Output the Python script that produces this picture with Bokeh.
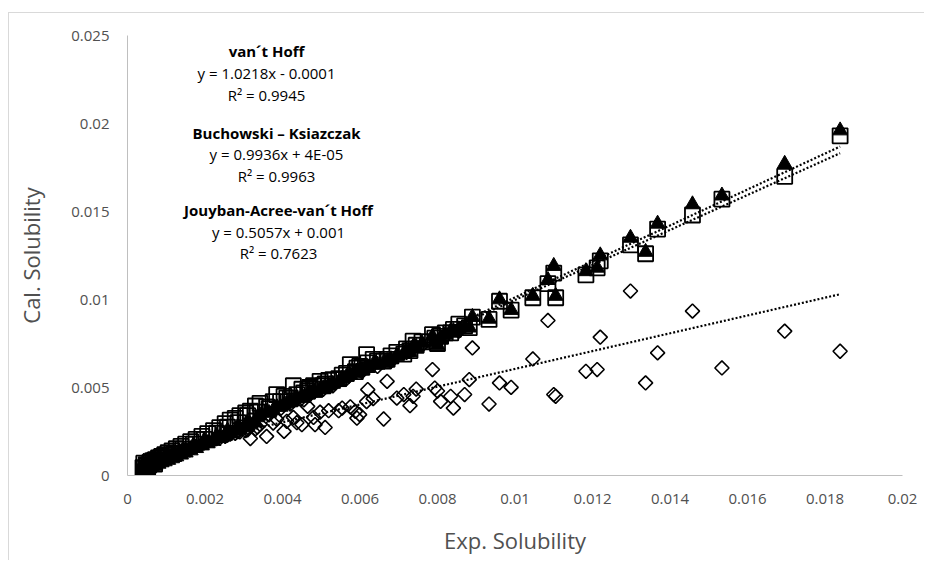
from bokeh.plotting import figure
from bokeh.models import Label, FixedTicker
from bokeh.embed import file_html
from bokeh.resources import INLINE
import math

# ---------------- data ----------------
exp_sol = [0.00040, 0.00043, 0.00047, 0.00050, 0.00055, 0.00060, 0.00066, 0.00072, 0.00080, 0.00088,
           0.00096, 0.00105, 0.00115, 0.00126, 0.00138, 0.00150, 0.00163, 0.00177, 0.00192, 0.00207,
           0.00222, 0.00238, 0.00252, 0.00265, 0.00278, 0.00290, 0.00305, 0.00317, 0.00330,
           0.00342, 0.00359, 0.00376, 0.00385, 0.00404, 0.00411, 0.00428, 0.00437, 0.00450, 0.00465,
           0.00480, 0.00484, 0.00497, 0.00510, 0.00519, 0.00545, 0.00554, 0.00575, 0.00588, 0.00592,
           0.00599, 0.00617, 0.00620, 0.00634, 0.00661, 0.00670, 0.00695, 0.00713, 0.00729, 0.00737,
           0.00745, 0.00787, 0.00793, 0.00800, 0.00808, 0.00834, 0.00841, 0.00870, 0.00882, 0.00890,
           0.00933, 0.00960, 0.00990, 0.01046, 0.01085, 0.01100, 0.01105, 0.01183, 0.01212, 0.01220,
           0.01298, 0.01337, 0.01368, 0.01458, 0.01534, 0.01696, 0.01839,
           0.00042, 0.00048, 0.00052, 0.00058, 0.00070, 0.00085, 0.00100, 0.00120, 0.00143, 0.00170,
           0.00198, 0.00230, 0.00258, 0.00285, 0.00310, 0.00335, 0.00365, 0.00395, 0.00420, 0.00455,
           0.00470, 0.00505, 0.00530, 0.00565, 0.00605, 0.00645, 0.00680, 0.00720, 0.00760, 0.00820,
           0.00855]

vant_hoff = [0.00030, 0.00035, 0.00020, 0.00045, 0.00040, 0.00050, 0.00055, 0.00060, 0.00066, 0.00074,
             0.00080, 0.00088, 0.00097, 0.00108, 0.00118, 0.00130, 0.00142, 0.00155, 0.00170, 0.00182,
             0.00196, 0.00212, 0.00225, 0.00238, 0.00250, 0.00262, 0.00275, 0.00290, 0.00300,
             0.00340, 0.00360, 0.00370, 0.00390, 0.00400, 0.00410, 0.00420, 0.00440, 0.00450, 0.00460,
             0.00480, 0.00470, 0.00490, 0.00500, 0.00510, 0.00530, 0.00550, 0.00570, 0.00580, 0.00590,
             0.00600, 0.00620, 0.00610, 0.00630, 0.00640, 0.00650, 0.00680, 0.00690, 0.00700, 0.00730,
             0.00730, 0.00790, 0.00760, 0.00740, 0.00780, 0.00820, 0.00820, 0.00840, 0.00840, 0.00900,
             0.00890, 0.01000, 0.00940, 0.01020, 0.01110, 0.01190, 0.01020, 0.01160, 0.01180, 0.01250,
             0.01350, 0.01270, 0.01430, 0.01540, 0.01590, 0.01770, 0.01960,
             0.00060, 0.00050, 0.00030, 0.00065, 0.00055, 0.00090, 0.00105, 0.00118, 0.00145, 0.00170,
             0.00198, 0.00225, 0.00255, 0.00280, 0.00305, 0.00330, 0.00355, 0.00390, 0.00415, 0.00440,
             0.00470, 0.00495, 0.00520, 0.00560, 0.00600, 0.00630, 0.00660, 0.00710, 0.00750, 0.00800,
             0.00830]

buchowski = [0.00045, 0.00040, 0.00030, 0.00055, 0.00060, 0.00075, 0.00085, 0.00090, 0.00100, 0.00108,
             0.00118, 0.00130, 0.00140, 0.00152, 0.00165, 0.00178, 0.00192, 0.00205, 0.00222, 0.00238,
             0.00255, 0.00272, 0.00295, 0.00315, 0.00325, 0.00340, 0.00355, 0.00365, 0.00395,
             0.00410, 0.00390, 0.00420, 0.00460, 0.00450, 0.00440, 0.00510, 0.00460, 0.00490, 0.00480,
             0.00510, 0.00490, 0.00535, 0.00520, 0.00540, 0.00550, 0.00570, 0.00630, 0.00590, 0.00610,
             0.00620, 0.00687, 0.00640, 0.00660, 0.00650, 0.00660, 0.00700, 0.00690, 0.00710, 0.00763,
             0.00740, 0.00800, 0.00780, 0.00750, 0.00790, 0.00810, 0.00830, 0.00850, 0.00840, 0.00900,
             0.00887, 0.00990, 0.00940, 0.01010, 0.01090, 0.01150, 0.01010, 0.01140, 0.01180, 0.01220,
             0.01310, 0.01260, 0.01400, 0.01480, 0.01570, 0.01700, 0.01930,
             0.00070, 0.00062, 0.00040, 0.00075, 0.00065, 0.00100, 0.00115, 0.00125, 0.00150, 0.00178,
             0.00205, 0.00240, 0.00275, 0.00300, 0.00340, 0.00360, 0.00380, 0.00420, 0.00440, 0.00470,
             0.00500, 0.00510, 0.00545, 0.00580, 0.00615, 0.00650, 0.00680, 0.00720, 0.00760, 0.00810,
             0.00860]

jouyban = [0.00050, 0.00045, 0.00040, 0.00060, 0.00065, 0.00070, 0.00072, 0.00080, 0.00088, 0.00095,
           0.00102, 0.00108, 0.00115, 0.00125, 0.00135, 0.00145, 0.00155, 0.00165, 0.00178, 0.00190,
           0.00200, 0.00212, 0.00222, 0.00235, 0.00240, 0.00248, 0.00255, 0.00210, 0.00265,
           0.00290, 0.00222, 0.00298, 0.00320, 0.00251, 0.00308, 0.00330, 0.00300, 0.00289, 0.00393,
           0.00330, 0.00289, 0.00360, 0.00273, 0.00368, 0.00368, 0.00383, 0.00390, 0.00364, 0.00326,
           0.00346, 0.00420, 0.00488, 0.00437, 0.00321, 0.00535, 0.00440, 0.00460, 0.00397, 0.00450,
           0.00491, 0.00602, 0.00497, 0.00480, 0.00421, 0.00450, 0.00383, 0.00460, 0.00545, 0.00725,
           0.00406, 0.00526, 0.00501, 0.00662, 0.00881, 0.00460, 0.00450, 0.00592, 0.00602, 0.00786,
           0.01048, 0.00526, 0.00697, 0.00934, 0.00611, 0.00820, 0.00706,
           0.00055, 0.00035, 0.00048, 0.00058, 0.00075, 0.00082, 0.00098, 0.00120, 0.00140, 0.00160,
           0.00185, 0.00210, 0.00230, 0.00250, 0.00260, 0.00275, 0.00345, 0.00380, 0.00405, 0.00430,
           0.00460, 0.00490, 0.00510, 0.00550, 0.00590, 0.00620, 0.00650, 0.00700, 0.00740, 0.00790,
           0.00820]

fit_names = ["van\u00b4t Hoff", "Buchowski \u2013 Ksiazczak", "Jouyban-Acree-van\u00b4t Hoff"]
fit_slope = [1.0218, 0.9936, 0.5057]
fit_intercept = [-0.0001, 0.00004, 0.001]
fit_eq = ["y = 1.0218x - 0.0001", "y = 0.9936x + 4E-05", "y = 0.5057x + 0.001"]
fit_r2 = ["R\u00b2 = 0.9945", "R\u00b2 = 0.9963", "R\u00b2 = 0.7623"]

x_ticks = [0, 0.002, 0.004, 0.006, 0.008, 0.01, 0.012, 0.014, 0.016, 0.018, 0.02]
x_tick_labels = ["0", "0.002", "0.004", "0.006", "0.008", "0.01", "0.012", "0.014", "0.016", "0.018", "0.02"]
y_ticks = [0, 0.005, 0.01, 0.015, 0.02, 0.025]
y_tick_labels = ["0", "0.005", "0.01", "0.015", "0.02", "0.025"]

# ---------------- figure ----------------
FONT = "Open Sans"
GRAY = "#505050"
OX, OY = 9, 13                     # outer chart-area border offset
W, H = 925 - OX, 561 - OY
L, R, T, B = 127 - OX, 23, 35 - OY, 86

p = figure(width=W, height=H, output_backend="svg", toolbar_location=None,
           x_range=(0, 0.02), y_range=(0, 0.025),
           min_border_left=L, min_border_right=R, min_border_top=T, min_border_bottom=B)
p.margin = (OY - 1, 0, 0, OX - 1)
p.styles = {"border-left": "1px solid #d9d9d9", "border-top": "1px solid #d9d9d9"}
p.outline_line_color = None
p.background_fill_color = "white"
p.border_fill_color = "white"
p.xgrid.grid_line_color = None
p.ygrid.grid_line_color = None

for ax, ticks, labels in ((p.xaxis[0], x_ticks, x_tick_labels), (p.yaxis[0], y_ticks, y_tick_labels)):
    ax.ticker = FixedTicker(ticks=ticks)
    ax.major_label_overrides = {t: l for t, l in zip(ticks, labels)}
    ax.major_tick_line_color = None
    ax.minor_tick_line_color = None
    ax.axis_line_color = "#bfbfbf"
    ax.axis_line_width = 1
    ax.major_label_text_font = FONT
    ax.major_label_text_font_size = "15px"
    ax.major_label_text_color = GRAY
    ax.axis_label_text_font = FONT
    ax.axis_label_text_font_size = "22px"
    ax.axis_label_text_font_style = "normal"
    ax.axis_label_text_color = GRAY

p.xaxis.axis_label = "Exp. Solubility"
p.yaxis.axis_label = "Cal. Solubility"
p.xaxis.major_label_standoff = 12
p.yaxis.major_label_standoff = 12
p.xaxis.axis_label_standoff = 18
p.yaxis.axis_label_standoff = 22

# points
p.scatter(exp_sol, jouyban, marker="square", size=10, angle=math.pi / 4,
          fill_color=None, line_color="black", line_width=1.6)
p.scatter(exp_sol, vant_hoff, marker="triangle", size=15,
          fill_color="black", line_color="black", line_width=1)
p.scatter(exp_sol, buchowski, marker="square", size=15,
          fill_color=None, line_color="black", line_width=1.8)

# trend lines
x0, x1 = min(exp_sol), max(exp_sol)
for m, c in zip(fit_slope, fit_intercept):
    p.line([x0, x1], [m * x0 + c, m * x1 + c], line_color="black",
           line_width=2.2, line_dash="2 2")

# equation annotations
def px2x(px):
    return (px - 127) / (902 - 127) * 0.02

def py2y(py):
    return (475 - py) / (475 - 35) * 0.025

centers = [266, 276, 278]
rows = [(50.8, 72, 94), (132, 153, 175), (209, 231.5, 252.6)]
for name, eq, r2, cx, (y1, y2, y3) in zip(fit_names, fit_eq, fit_r2, centers, rows):
    for txt, yy, style in ((name, y1, "bold"), (eq, y2, "normal"), (r2, y3, "normal")):
        p.add_layout(Label(x=px2x(cx), y=py2y(yy), text=txt, text_align="center",
                           text_baseline="middle", text_font=FONT, text_font_size="15px",
                           text_font_style=style, text_color="black"))

open("out.html", "w").write(file_html(p, INLINE))
